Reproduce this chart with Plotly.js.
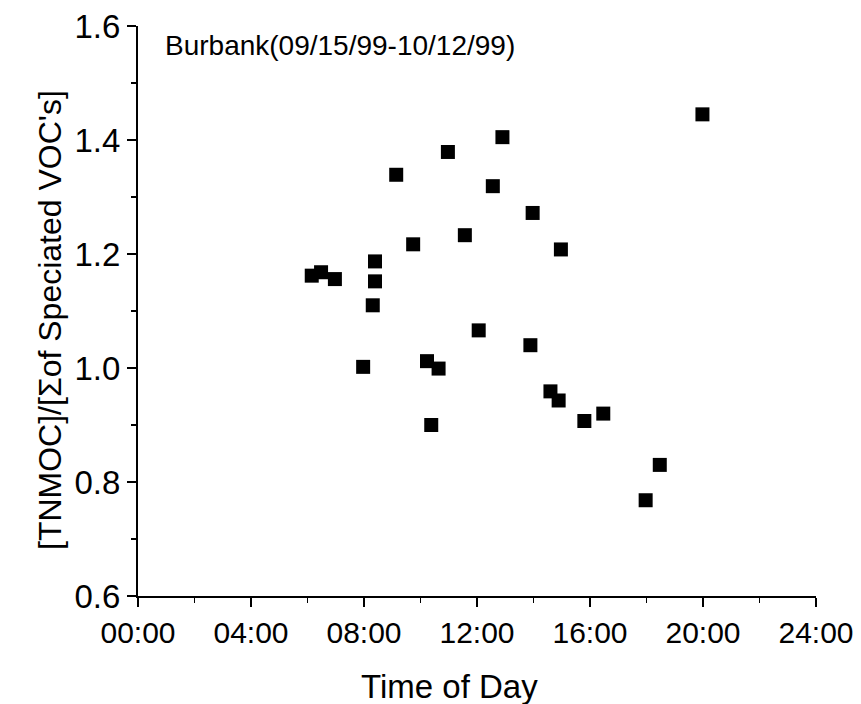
<!DOCTYPE html>
<html>
<head>
<meta charset="utf-8">
<script src="https://cdn.plot.ly/plotly-3.0.1.min.js"></script>
<style>
  html, body { margin: 0; padding: 0; background: #fff; }
  #chart { width: 861px; height: 704px; }
</style>
</head>
<body>
<div id="chart"></div>
<script>
// Time of day in decimal hours
const timeHours = [6.15, 6.48, 6.97, 7.97, 8.31, 8.39, 8.39, 9.14, 9.74, 10.23, 10.38, 10.64,
  10.97, 11.57, 12.06, 12.56, 12.90, 13.89, 13.97, 14.60, 14.89, 14.97, 15.80, 16.47,
  17.97, 18.47, 19.98];
// Ratio [TNMOC]/[sum of speciated VOCs]
const ratio = [1.162, 1.168, 1.156, 1.002, 1.110, 1.187, 1.152, 1.339, 1.217, 1.012, 0.900, 0.999,
  1.379, 1.233, 1.066, 1.319, 1.405, 1.040, 1.272, 0.959, 0.943, 1.208, 0.907, 0.920,
  0.768, 0.830, 1.445];

const xTickVals = [0, 4, 8, 12, 16, 20, 24];
const xTickText = ["00:00", "04:00", "08:00", "12:00", "16:00", "20:00", "24:00"];
const xMinorVals = [2, 6, 10, 14, 18, 22];
const yTickVals = [0.6, 0.8, 1.0, 1.2, 1.4, 1.6];
const yMinorVals = [0.7, 0.9, 1.1, 1.3, 1.5];

const annotationText = "Burbank(09/15/99-10/12/99)";
const xTitle = "Time of Day";
const yTitle = "[TNMOC]/[\u03A3of Speciated VOC's]";

const FONT = "Liberation Sans, Arial, sans-serif";

const trace = {
  x: timeHours,
  y: ratio,
  type: "scatter",
  mode: "markers",
  marker: { symbol: "square", size: 14, color: "#000", line: { width: 0 } },
  hoverinfo: "x+y",
  showlegend: false
};

const layout = {
  width: 861,
  height: 704,
  margin: { l: 138, r: 45, t: 26, b: 108 },
  paper_bgcolor: "#fff",
  plot_bgcolor: "#fff",
  font: { family: FONT, color: "#000" },
  xaxis: {
    range: [0, 24],
    tickmode: "array",
    tickvals: xTickVals,
    ticktext: xTickText,
    ticks: "outside",
    ticklen: 9,
    tickwidth: 1.5,
    tickcolor: "#000",
    showline: true,
    linewidth: 2,
    linecolor: "#000",
    showgrid: false,
    zeroline: false,
    tickfont: { size: 30, family: FONT, color: "#000" },
    minor: { tickmode: "array", tickvals: xMinorVals, ticks: "outside", ticklen: 5, tickwidth: 1.5, tickcolor: "#000", showgrid: false }
  },
  yaxis: {
    range: [0.6, 1.6],
    tickmode: "array",
    tickvals: yTickVals,
    ticktext: yTickVals.map(v => v.toFixed(1)),
    ticks: "outside",
    ticklen: 9,
    tickwidth: 1.5,
    tickcolor: "#000",
    showline: true,
    linewidth: 2,
    linecolor: "#000",
    showgrid: false,
    zeroline: false,
    tickfont: { size: 33, family: FONT, color: "#000" },
    minor: { tickmode: "array", tickvals: yMinorVals, ticks: "outside", ticklen: 5, tickwidth: 1.5, tickcolor: "#000", showgrid: false }
  },
  annotations: [
    {
      text: annotationText,
      xref: "paper", yref: "paper",
      x: 0.037, y: 0.966,
      xanchor: "left", yanchor: "middle",
      showarrow: false,
      font: { size: 28, family: FONT, color: "#000" }
    },
    {
      text: xTitle,
      xref: "paper", yref: "paper",
      x: 0.46, y: -0.158,
      xanchor: "center", yanchor: "middle",
      showarrow: false,
      font: { size: 33, family: FONT, color: "#000" }
    },
    {
      text: yTitle,
      xref: "paper", yref: "paper",
      x: -0.130, y: 0.484,
      xanchor: "center", yanchor: "middle",
      textangle: -90,
      showarrow: false,
      font: { size: 32, family: FONT, color: "#000" }
    }
  ]
};

Plotly.newPlot("chart", [trace], layout, { displayModeBar: false, staticPlot: true });
</script>
</body>
</html>
